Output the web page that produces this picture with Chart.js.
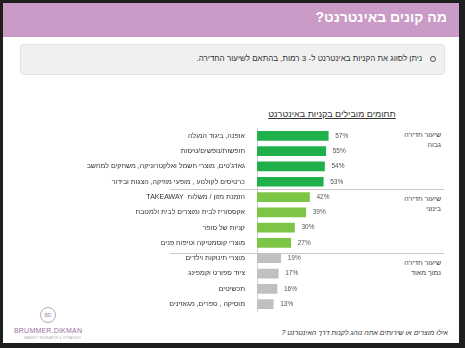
<!DOCTYPE html>
<html lang="he">
<head>
<meta charset="UTF-8">
<title>מה קונים באינטרנט?</title>
<script src="https://cdn.jsdelivr.net/npm/chart.js"></script>
<style>
    html, body { margin: 0; padding: 0; }
    body { width: 465px; height: 348px; background: #1e1e1e; position: relative; overflow: hidden;
           font-family: "Liberation Sans", "DejaVu Sans", sans-serif; }
    .page { position: absolute; left: 3px; top: 3px; width: 456px; height: 340px; background: #fff; }
    .header { position: absolute; left: 0; top: 0; width: 456px; height: 34px; background: #c99bc6; }
    .header h1 { position: absolute; right: 12px; top: 6px; margin: 0; font-size: 14px; color: #fff; font-weight: bold; }
    .note { position: absolute; left: 20px; top: 44px; width: 423px; height: 29px; background: #f0f0f0;
            border: 1px solid #e2e2e2; border-radius: 4px; }
    .note span { position: absolute; right: 22px; top: 9px; font-size: 8px; color: #333; white-space: nowrap; }
    .note i { position: absolute; right: 8px; top: 11px; width: 4px; height: 4px; border: 1px solid #555; border-radius: 50%; }
    .ctitle { position: absolute; left: 257px; top: 109px; width: 150px; text-align: center; font-size: 9px;
              color: #333; text-decoration: underline; white-space: nowrap; }
    .sep { position: absolute; left: 170px; width: 274px; height: 1px; background: #c8c8c8; }
    .grp { position: absolute; right: 24px; font-size: 7px; line-height: 10px; color: #444; text-align: right; }
    .q { position: absolute; right: 17px; top: 329px; font-size: 7px; font-style: italic; color: #333; white-space: nowrap; }
    .logo { position: absolute; left: 40px; top: 307px; width: 14px; height: 14px; border: 1px solid #b9a5bd;
            border-radius: 50%; font-size: 5px; color: #9d7fa3; text-align: center; line-height: 14px; }
    .brand { position: absolute; left: 14px; top: 327px; font-size: 7px; color: #9a6fa0; letter-spacing: 0.2px; }
    .sub { position: absolute; left: 24px; top: 336px; font-size: 3px; color: #aaa; letter-spacing: 0.3px; }
    #chart { position: absolute; left: 60px; top: 120px; }
</style>
</head>
<body>
<div class="page"></div>
<div class="header" style="left:3px;top:3px;"><h1 dir="rtl">מה קונים באינטרנט?</h1></div>
<div class="note"><i></i><span dir="rtl">ניתן לסווג את הקניות באינטרנט ל- 3 רמות, בהתאם לשיעור החדירה.</span></div>
<div class="ctitle" dir="rtl">תחומים מובילים בקניות באינטרנט</div>
<div class="sep" style="top:189px;"></div>
<div class="sep" style="top:253px;"></div>
<div class="grp" dir="rtl" style="top:130px;">שיעור חדירה<br>גבוה</div>
<div class="grp" dir="rtl" style="top:194px;">שיעור חדירה<br>בינוני</div>
<div class="grp" dir="rtl" style="top:258px;">שיעור חדירה<br>נמוך מאוד</div>
<div class="q" dir="rtl">אילו מוצרים או שירותים אתה נוהג לקנות דרך האינטרנט ?</div>
<div class="logo">BD</div>
<div class="brand">BRUMMER.DIKMAN</div>
<div class="sub">MARKET RESEARCH &amp; STRATEGY</div>
<canvas id="chart" width="400" height="200" dir="rtl"></canvas>

<script>
    const categories = [
        'אופנה, ביגוד הנעלה',
        'חופשות/נופשים/טיסות',
        "גאדג'טים, מוצרי חשמל ואלקטרוניקה, משחקים למחשב",
        'כרטיסים לקולנוע , מופעי מוזיקה, הצגות ובידור',
        'הזמנת מזון / משלוח  TAKEAWAY',
        'אקססוריז לבית ומוצרים לבית ולמטבח',
        'קניות של סופר',
        'מוצרי קוסמטיקה וטיפוח פנים',
        'מוצרי תינוקות וילדים',
        'ציוד ספורט וקמפינג',
        'תכשיטים',
        'מוסיקה , ספרים, מגאזינים'
    ];
    const values = [57, 55, 54, 53, 42, 39, 30, 27, 19, 17, 16, 13];
    // penetration level of each row: 0 high, 1 medium, 2 very low
    const levels = [0, 0, 0, 0, 1, 1, 1, 1, 2, 2, 2, 2];
    const levelColors = ['#1fb04c', '#7dc545', '#c0c0c0'];

    // draws "57%" next to each bar
    const valueLabels = {
        id: 'valueLabels',
        afterDatasetsDraw(chart) {
            const ctx = chart.ctx;
            const meta = chart.getDatasetMeta(0);
            ctx.save();
            ctx.font = '6.5px "Liberation Sans", sans-serif';
            ctx.fillStyle = '#555';
            ctx.textAlign = 'left';
            ctx.textBaseline = 'middle';
            meta.data.forEach((bar, i) => {
                ctx.fillText(values[i] + '%', bar.x + 7, bar.y);
            });
            ctx.restore();
        }
    };

    new Chart(document.getElementById('chart'), {
        type: 'bar',
        data: {
            labels: categories,
            datasets: [{
                data: values,
                backgroundColor: levels.map(l => levelColors[l]),
                barThickness: 9
            }]
        },
        options: {
            indexAxis: 'y',
            responsive: false,
            animation: false,
            layout: { padding: { top: 5, bottom: 3, right: 78 } },
            plugins: { legend: { display: false }, tooltip: { enabled: false } },
            scales: {
                x: { display: false, min: 0, max: 100 },
                y: {
                    afterFit: s => { s.width = 197; },
                    grid: { display: false },
                    border: { display: true, color: '#d0d0d0' },
                    ticks: {
                        color: '#333',
                        padding: 4,
                        autoSkip: false,
                        font: { family: '"Liberation Sans", sans-serif', size: 7 }
                    }
                }
            }
        },
        plugins: [valueLabels]
    });
</script>
</body>
</html>
